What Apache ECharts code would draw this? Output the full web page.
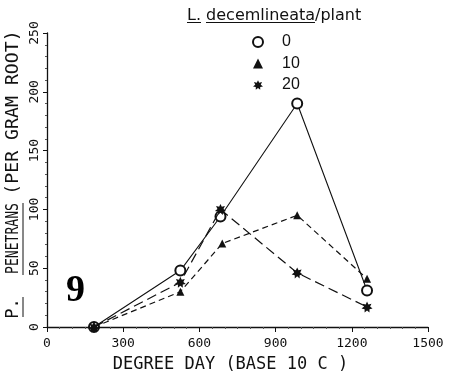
<!DOCTYPE html>
<html><head><meta charset="utf-8">
<script src="https://cdn.jsdelivr.net/npm/echarts@6/dist/echarts.min.js"></script>
<style>html,body{margin:0;padding:0;background:#fff}#c{width:449px;height:372px}</style>
</head><body><div id="c"></div>
<script>
const degreeDays0 = [185, 525, 683, 985, 1260];
const values0 = [0, 48, 94, 190, 31];
const degreeDays10 = [185, 525, 690, 985, 1260];
const values10 = [0, 30, 71, 95, 41];
const degreeDays20 = [185, 525, 683, 985, 1260];
const values20 = [0, 38, 100, 46, 17];
const seriesNames = ['0', '10', '20'];
const xTicks = [0, 300, 600, 900, 1200, 1500];
const yTicks = [0, 50, 100, 150, 200, 250];

function starPath(n) {
  let d = '';
  for (let i = 0; i < 2 * n; i++) {
    const r = i % 2 === 0 ? 10 : 5.5;
    const a = Math.PI * i / n - Math.PI / 2;
    d += (i === 0 ? 'M' : 'L') + (10 + r * Math.cos(a)).toFixed(2) + ',' + (10 + r * Math.sin(a)).toFixed(2);
  }
  return 'path://' + d + 'Z';
}
const STAR = starPath(7);
const ink = '#111';
const mono = 'DejaVu Sans Mono';

const zip = (xs, ys) => xs.map((x, i) => [x, ys[i]]);

function vText(text, cy, scaleX) {
  return { type: 'text', x: 14, y: cy, rotation: Math.PI / 2, scaleX: scaleX || 1,
    style: { text, fontFamily: mono, fontSize: 17, fill: ink, align: 'center', verticalAlign: 'middle' } };
}
function uline(x1, y1, x2, y2) {
  return { type: 'line', shape: { x1, y1, x2, y2 }, style: { stroke: ink, lineWidth: 1 } };
}

const chart = echarts.init(document.getElementById('c'));
chart.setOption({
  animation: false,
  backgroundColor: '#fff',
  grid: { left: 47, right: 21, top: 33, bottom: 45, outerBoundsMode: 'none', containLabel: false },
  xAxis: {
    type: 'value', min: 0, max: 1500, interval: 300,
    name: 'DEGREE DAY (BASE 10 C )', nameLocation: 'middle', nameGap: 29,
    nameTextStyle: { fontFamily: mono, fontSize: 17, color: ink, padding: [0, 14, 0, 0] },
    axisLine: { onZero: false, lineStyle: { color: ink, width: 1.3 } },
    axisTick: { show: true, length: 5, lineStyle: { color: ink } },
    minorTick: { show: true, splitNumber: 6, length: 2, lineStyle: { color: '#555' } },
    splitLine: { show: false },
    axisLabel: { fontFamily: mono, fontSize: 13, color: ink, margin: 10,
      formatter: v => xTicks.includes(v) ? String(v) : '' }
  },
  yAxis: {
    type: 'value', min: 0, max: 250, interval: 50,
    axisLine: { show: true, lineStyle: { color: ink, width: 1.3 } },
    axisTick: { show: true, length: 4, lineStyle: { color: ink } },
    minorTick: { show: true, splitNumber: 5, length: 2, lineStyle: { color: '#555' } },
    splitLine: { show: false },
    axisLabel: { fontFamily: mono, fontSize: 13, color: ink, rotate: 90, margin: 6,
      formatter: v => yTicks.includes(v) ? String(v) : '' }
  },
  legend: {
    orient: 'vertical', left: 252, top: 34, itemGap: 5.5, padding: 0,
    itemWidth: 10, itemHeight: 10,
    textStyle: { fontFamily: 'Liberation Sans', fontSize: 16, color: ink, padding: [0, 0, 0, 14] },
    data: [
      { name: '0', icon: 'emptyCircle' },
      { name: '10', icon: 'triangle' },
      { name: '20', icon: STAR }
    ]
  },
  series: [
    { name: seriesNames[0], type: 'line', data: zip(degreeDays0, values0),
      symbol: 'emptyCircle', symbolSize: 10, z: 3,
      lineStyle: { color: ink, width: 1.1, type: 'solid' },
      itemStyle: { color: ink, borderColor: ink, borderWidth: 1.3 } },
    { name: seriesNames[1], type: 'line', data: zip(degreeDays10, values10),
      symbol: 'triangle', symbolSize: 8, z: 4,
      lineStyle: { color: ink, width: 1.2, type: [6, 4] },
      itemStyle: { color: ink } },
    { name: seriesNames[2], type: 'line', data: zip(degreeDays20, values20),
      symbol: STAR, symbolSize: 11, z: 5,
      lineStyle: { color: ink, width: 1.2, type: [10, 5] },
      itemStyle: { color: ink } }
  ],
  graphic: [
    { type: 'text', left: 66, top: 272, style: { text: '9', fontFamily: 'Liberation Serif', fontWeight: 'bold', fontSize: 38, fill: '#000' } },
    { type: 'text', x: 187, y: 15.5, style: { text: 'L. decemlineata/plant', fontFamily: 'DejaVu Sans', fontSize: 16, fill: ink, align: 'left', verticalAlign: 'middle' } },
    uline(187, 22.5, 201, 22.5),
    uline(206, 22.5, 315, 22.5),
    vText('P.', 308.5),
    vText('PENETRANS', 238.5, 0.77),
    vText('(PER GRAM ROOT)', 112.5, 1.07),
    uline(23, 317, 23, 297),
    uline(23, 275, 23, 203)
  ]
});
</script></body></html>
